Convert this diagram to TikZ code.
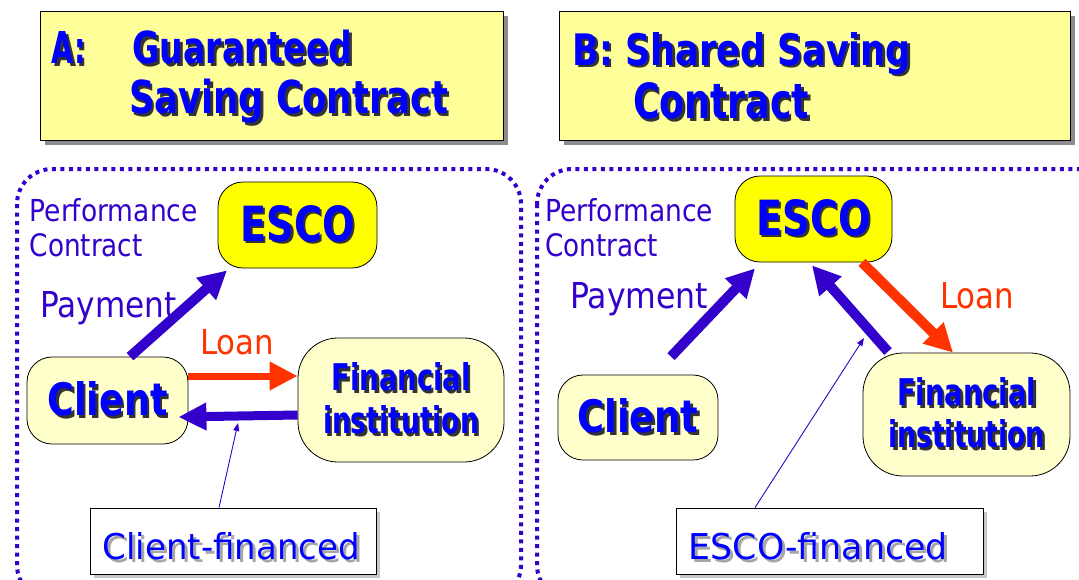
\documentclass[tikz,border=0pt]{standalone}
\usepackage{fontspec}
\setmainfont{DejaVu Sans}
\usepackage{graphicx}
\usetikzlibrary{arrows.meta,shadows}
\definecolor{pblue}{HTML}{3300CC}
\definecolor{tblue}{HTML}{0000FF}
\definecolor{lred}{HTML}{FF3300}
\definecolor{tyellow}{HTML}{FFFF99}
\definecolor{nyellow}{HTML}{FFFF00}
\definecolor{ncream}{HTML}{FFFFCC}
\newcommand\rb[3]{\resizebox{#1pt}{#2pt}{#3}}
\newcommand\shd[3][2.5]{\leavevmode\rlap{\kern#1pt\raisebox{-#1pt}{\color{#2}#3}}#3}
\tikzset{
  titlebox/.style={draw=black, line width=1.2pt, fill=tyellow, anchor=north west,
    drop shadow={shadow xshift=4pt, shadow yshift=-4pt, fill=black!45, opacity=1}},
  ttext/.style={inner sep=0pt, anchor=base west, text=tblue},
  panel/.style={draw=pblue, line width=4pt, dash pattern=on 4pt off 4.5pt, rounded corners=35pt},
  plain/.style={inner sep=0pt, text=pblue},
  esconode/.style={draw=black, line width=0.8pt, fill=nyellow, rounded corners=25pt, inner sep=0pt, text=tblue},
  creamnode/.style={draw=black, line width=0.8pt, fill=ncream, rounded corners=25pt, inner sep=0pt, text=tblue},
  finbox/.style={draw=black, line width=0.8pt, fill=white, inner sep=0pt,
    drop shadow={shadow xshift=3.5pt, shadow yshift=-3.5pt, fill=black!22, opacity=1}},
  fat/.style={line width=#1, -{Triangle[width=28pt,length=28pt]}},
  fat/.default=10pt,
  thinarrow/.style={draw=pblue, line width=0.9pt, -{Triangle[width=6pt,length=8pt]}}
}
\begin{document}
\begin{tikzpicture}[x=1pt,y=-1pt]
\useasboundingbox (0,0) rectangle (1079,579);
\clip (0,0) rectangle (1079,579);
\fill[white] (0,0) rectangle (1079,579);

% title boxes
\node[titlebox, minimum width=463pt, minimum height=129pt] (titleA) at (40,11) {};
\node[titlebox, minimum width=511pt, minimum height=129pt] (titleB) at (559,11) {};
\node[ttext] (tA1) at (51.5,63.5) {\shd{black!80}{\rb{34}{32}{\bfseries A:}}};
\node[ttext] (tA2) at (132.5,63.5) {\shd{black!80}{\rb{219.5}{33.5}{\bfseries Guaranteed}}};
\node[ttext] (tA3) at (129,113.5) {\shd{black!80}{\rb{319}{34.5}{\bfseries Saving Contract}}};
\node[ttext] (tB1) at (572.5,65) {\shd{black!80}{\rb{338}{33}{\bfseries B: Shared Saving}}};
\node[ttext] (tB2) at (633,118.5) {\shd{black!80}{\rb{176}{36}{\bfseries Contract}}};

% dotted panels
\draw[panel] (17,169) rectangle (521,600);
\draw[panel] (537,169) rectangle (1115,600);

% ---------- panel A ----------
\node[plain, anchor=north west, align=left, font=\fontsize{20}{35.5}\selectfont] (perfA) at (29.5,198)
  {\rb{168}{23}{Performance}\\\rb{113}{23}{Contract}};
\node[esconode, minimum width=159pt, minimum height=86pt] (escoA) at (297.5,225)
  {\shd{black!80}{\rb{114}{36}{\bfseries ESCO}}};
\node[creamnode, minimum width=161pt, minimum height=87pt] (clientA) at (107.5,400.5)
  {\shd{black!80}{\rb{120}{34}{\bfseries Client}}};
\node[creamnode, rounded corners=40pt, minimum width=206pt, minimum height=124pt, align=center,
  font=\fontsize{30}{43}\selectfont] (finA) at (401,400)
  {\shd{black!80}{\rb{139}{28}{\bfseries Financial}}\\\shd{black!80}{\rb{156}{28}{\bfseries institution}}};
\node[plain, anchor=base west] (payA) at (40,317) {\rb{136}{26}{Payment}};
\node[plain, anchor=base west, text=lred] (loanA) at (200,354) {\rb{74}{25}{Loan}};
\node[finbox, minimum width=286pt, minimum height=66pt] (cfA) at (233,541) {};
\node[ttext] (cfAt) at (102.5,559) {\shd[3]{black!35}{\rb{257}{27}{Client-financed}}};

\draw[fat, pblue] ([xshift=22.5pt]clientA.north) -- ([xshift=-70.5pt,yshift=-2pt]escoA.south);
\draw[fat=7pt, lred, -{Triangle[width=27pt,length=28pt]}] ([yshift=24.5pt]clientA.east) -- ([yshift=24pt]finA.west);
\draw[fat=9pt, pblue, -{Triangle[width=26pt,length=28pt]}] ([yshift=-15pt]finA.west) -- ([xshift=-10pt,yshift=-16.5pt]clientA.east);
\coordinate (cfAtip) at (238,423);
\draw[thinarrow] ([xshift=-14pt]cfA.north) -- (cfAtip);

% ---------- panel B ----------
\node[plain, anchor=north west, align=left, font=\fontsize{20}{35.5}\selectfont] (perfB) at (545,198)
  {\rb{168}{23}{Performance}\\\rb{113}{23}{Contract}};
\node[esconode, minimum width=157pt, minimum height=86pt] (escoB) at (813.5,219)
  {\shd{black!80}{\rb{114}{36}{\bfseries ESCO}}};
\node[creamnode, minimum width=160pt, minimum height=85pt] (clientB) at (638,417.5)
  {\shd{black!80}{\rb{121}{34}{\bfseries Client}}};
\node[creamnode, rounded corners=40pt, minimum width=207pt, minimum height=123pt, align=center,
  font=\fontsize{30}{42}\selectfont] (finB) at (966.5,414.5)
  {\shd{black!80}{\rb{139}{28}{\bfseries Financial}}\\\shd{black!80}{\rb{156}{28}{\bfseries institution}}};
\node[plain, anchor=base west] (payB) at (570,308) {\rb{138}{26}{Payment}};
\node[plain, anchor=base west, text=lred] (loanB) at (940,308) {\rb{74}{26}{Loan}};
\node[finbox, minimum width=307pt, minimum height=66pt] (efB) at (829.5,541) {};
\node[ttext] (efBt) at (688.5,559) {\shd[3]{black!35}{\rb{259}{27}{ESCO-financed}}};

\draw[fat, pblue] ([xshift=33pt,yshift=18pt]clientB.north) -- ([xshift=-58.5pt,yshift=-6pt]escoB.south);
\draw[fat, pblue] ([xshift=-78.5pt,yshift=1pt]finB.north) -- ([xshift=-1.5pt,yshift=-3pt]escoB.south);
\draw[fat, lred] ([xshift=48.5pt]escoB.south) -- ([xshift=-13.5pt]finB.north);
\coordinate (efBtip) at (864,338);
\draw[thinarrow] ([xshift=-74.5pt]efB.north) -- (efBtip);
\end{tikzpicture}
\end{document}
